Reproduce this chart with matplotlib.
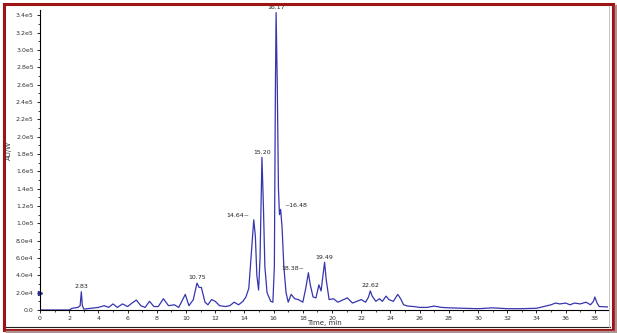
import matplotlib
matplotlib.use("Agg")
import matplotlib.pyplot as plt
import numpy as np
from matplotlib.patches import Rectangle
from matplotlib.lines import Line2D
from matplotlib.ticker import FuncFormatter, MultipleLocator

# retention time (min) and signal (units of 1e4)
time_min = [0.0, 2.0, 2.2, 2.6, 2.75, 2.83, 2.9, 3.0, 3.5, 4.0, 4.4, 4.7, 5.0, 5.3,
            5.65, 6.0, 6.3, 6.6, 6.9, 7.2, 7.5, 7.8, 8.1, 8.45, 8.8, 9.2, 9.5, 9.95,
            10.2, 10.5, 10.75, 10.9, 11.05, 11.3, 11.5, 11.75, 12.0, 12.3, 12.7, 13.0,
            13.3, 13.6, 13.9, 14.1, 14.3, 14.45, 14.64, 14.75, 14.85, 14.97, 15.07,
            15.2, 15.3, 15.4, 15.55, 15.8, 15.95, 16.05, 16.12, 16.17, 16.25, 16.33,
            16.4, 16.48, 16.58, 16.7, 16.85, 17.0, 17.2, 17.45, 17.7, 18.0, 18.2,
            18.38, 18.5, 18.7, 18.9, 19.1, 19.25, 19.38, 19.49, 19.6, 19.8, 20.1,
            20.4, 20.8, 21.05, 21.4, 21.7, 22.0, 22.3, 22.5, 22.62, 22.75, 23.0,
            23.25, 23.45, 23.7, 23.9, 24.2, 24.5, 24.7, 24.9, 25.2, 25.6, 26.0, 26.5,
            27.0, 27.5, 28.0, 29.0, 30.0, 31.0, 32.0, 33.0, 34.0, 34.5, 35.0, 35.3,
            35.6, 36.0, 36.3, 36.6, 37.0, 37.4, 37.7, 37.9, 38.0, 38.15, 38.3, 38.9]
signal_e4 = [0.0, 0.0, 0.2, 0.3, 0.5, 2.1, 0.5, 0.1, 0.2, 0.3, 0.5, 0.3, 0.7, 0.3,
             0.7, 0.4, 0.8, 1.15, 0.5, 0.3, 1.0, 0.4, 0.4, 1.3, 0.5, 0.6, 0.3, 1.8,
             0.5, 1.2, 3.1, 2.6, 2.6, 0.9, 0.6, 1.2, 1.0, 0.5, 0.4, 0.5,
             0.9, 0.6, 1.0, 1.5, 2.5, 6.0, 10.4, 8.5, 4.0, 2.3, 6.0,
             17.6, 12.0, 5.0, 2.0, 1.0, 0.9, 5.0, 25.0, 34.3, 26.0, 14.0,
             11.0, 11.6, 9.5, 5.0, 2.0, 0.9, 1.8, 1.3, 1.2, 0.9, 2.5,
             4.3, 3.0, 1.5, 1.4, 2.9, 2.2, 4.0, 5.5, 3.5, 1.2, 1.3,
             0.9, 1.2, 1.4, 0.8, 1.0, 1.2, 0.9, 1.5, 2.2, 1.6, 1.0,
             1.3, 1.0, 1.6, 1.2, 1.0, 1.8, 1.3, 0.6, 0.45, 0.4, 0.3, 0.3,
             0.45, 0.3, 0.25, 0.2, 0.15, 0.25, 0.15, 0.15, 0.2, 0.4, 0.6, 0.8,
             0.7, 0.8, 0.6, 0.8, 0.7, 0.9, 0.6, 1.0, 1.5, 0.8, 0.4, 0.35]

peak_labels = ["2.83", "10.75", "14.64", "15.20", "16.17", "16.48", "18.38", "19.49", "22.62"]
peak_times = [2.83, 10.75, 14.64, 15.20, 16.17, 16.48, 18.38, 19.49, 22.62]
peak_heights = [2.1, 3.1, 10.4, 17.6, 34.3, 11.6, 4.3, 5.5, 2.2]

W, H = 617, 333
fig = plt.figure(figsize=(W / 100, H / 100), dpi=100)
fig.patch.set_facecolor("white")

ax = fig.add_axes([40 / W, 1 - 310 / H, (608 - 40) / W, (310 - 10) / H])
t = np.array(time_min)
s = np.array(signal_e4) * 1e4
ax.plot(t, s, color="#3535b0", lw=0.9)

ax.set_xlim(0, 38.9)
ax.set_ylim(0, 3.46e5)
for sp in ["top", "right"]:
    ax.spines[sp].set_visible(False)
for sp in ["left", "bottom"]:
    ax.spines[sp].set_linewidth(0.8)

ax.xaxis.set_major_locator(MultipleLocator(2))
ax.xaxis.set_minor_locator(MultipleLocator(1))
ax.yaxis.set_major_locator(MultipleLocator(2e4))
ax.yaxis.set_minor_locator(MultipleLocator(1e4))


def yfmt(v, pos):
    if v <= 0:
        return "0.0"
    e = int(np.floor(np.log10(v)))
    return "%.1fe%d" % (v / 10 ** e, e)


ax.yaxis.set_major_formatter(FuncFormatter(yfmt))
ax.tick_params(which="major", length=2.5, width=0.6, labelsize=4.5, labelcolor="#333333", pad=2)
ax.tick_params(which="minor", length=1.5, width=0.5)

ax.set_xlabel("Time, min", fontsize=5, color="#333333", labelpad=2)
ax.xaxis.set_label_coords(0.5, -0.035)
ax.xaxis.label.set_ha("center")
fig.text(9 / W, 1 - 150 / H, "AU/W", rotation=90, fontsize=5, color="#333333",
         ha="center", va="center")

# small marker on the y axis
ax.plot([0], [2e4], marker=">", color="#2a2a90", ms=3, clip_on=False)

offsets = {"14.64": (-3, 1, "right"), "16.48": (3, 1, "left"), "18.38": (-3, 1, "right")}
for lab, x, y in zip(peak_labels, peak_times, peak_heights):
    if lab in offsets:
        dx, dy, ha = offsets[lab]
        txt = lab + "~" if ha == "right" else "~" + lab
        ax.annotate(txt, (x, y * 1e4), xytext=(dx, dy), textcoords="offset points",
                    fontsize=4.5, ha=ha, va="bottom", color="#222222")
    else:
        ax.annotate(lab, (x, y * 1e4), xytext=(0, 2), textcoords="offset points",
                    fontsize=4.5, ha="center", va="bottom", color="#222222")


# frame around the figure, drawn in pixel units
def px_rect(x0, y0, x1, y1, **kw):
    r = Rectangle((x0 / W, 1 - y1 / H), (x1 - x0) / W, (y1 - y0) / H,
                  transform=fig.transFigure, **kw)
    fig.add_artist(r)


def px_line(xs, ys, **kw):
    fig.add_artist(Line2D([x / W for x in xs], [1 - y / H for y in ys],
                          transform=fig.transFigure, **kw))


px_line([7, 616], [332, 332], color="#b09090", lw=2.5)
px_line([615.5, 615.5], [6, 332], color="#b09090", lw=2.5)
px_rect(3.5, 3.5, 613, 330, fill=False, edgecolor="#9e1414", lw=2.2)
px_line([6, 610], [326.5, 326.5], color="#222222", lw=0.8)
px_line([609, 609], [6, 326.5], color="#bbbbbb", lw=0.6)

fig.savefig("out.png", dpi=100)
